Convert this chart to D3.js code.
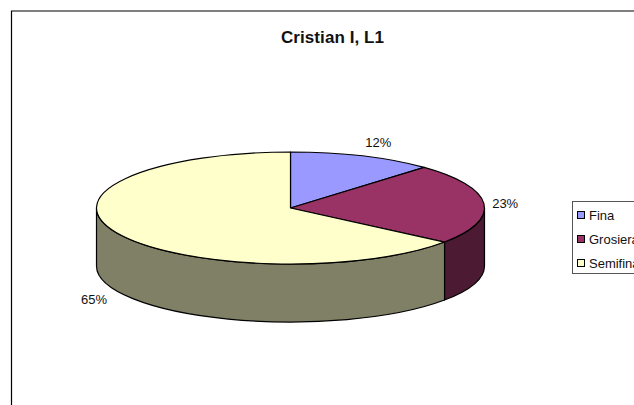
<!DOCTYPE html>
<html>
<head>
<meta charset="utf-8">
<style>
html, body { margin: 0; padding: 0; background: #fff; overflow: hidden; }
svg { display: block; }
text { font-family: 'Liberation Sans', Arial, sans-serif; fill: #111; }
</style>
</head>
<body>
<svg width="634" height="405"></svg>
<script src="https://d3js.org/d3.v7.min.js"></script>
<script>
// chart data, labels show these rounded
var categories = ["Fina", "Grosiera", "Semifina"];
var values = [12.1, 23.3, 64.6];
var topColors = ["#9999ff", "#993366", "#ffffcc"];
var sideColors = ["#4d4d80", "#4d1a33", "#808066"];

var svg = d3.select("svg");

// ellipse of the tilted pie
var cx = 290.5, cy = 208, rx = 194, ry = 56, depth = 58;

// frame, runs off the right and bottom of the picture
svg.append("path")
    .attr("d", "M11.5,700V11H900")
    .attr("fill", "none")
    .attr("stroke", "#000")
    .attr("stroke-width", 1.2);

svg.append("text")
    .attr("x", 332.5)
    .attr("y", 42.5)
    .attr("text-anchor", "middle")
    .attr("font-size", 17)
    .attr("font-weight", "bold")
    .attr("textLength", 103)
    .text("Cristian I, L1");

var pie = d3.pie().sort(null)(values);

function pointAt(a, dy) {
  return [cx + rx * Math.sin(a), cy - ry * Math.cos(a) + dy];
}

// side walls, only the part of each slice facing the viewer
var g = svg.append("g");
pie.forEach(function(d, i) {
  var a0 = Math.max(d.startAngle, Math.PI / 2),
      a1 = Math.min(d.endAngle, Math.PI * 1.5);
  if (a1 <= a0) return;
  var p0 = pointAt(a0, 0), p1 = pointAt(a1, 0);
  var large = a1 - a0 > Math.PI ? 1 : 0;
  g.append("path")
      .attr("d", "M" + p0 + "A" + rx + "," + ry + " 0 " + large + " 1 " + p1 +
                 "V" + (p1[1] + depth) +
                 "A" + rx + "," + ry + " 0 " + large + " 0 " + p0[0] + "," + (p0[1] + depth) + "Z")
      .attr("fill", sideColors[i])
      .attr("stroke", "#000")
      .attr("stroke-width", 1.2)
      .attr("stroke-linejoin", "round");
});

// top of the pie, a flat arc squashed into the ellipse
var arc = d3.arc().innerRadius(0).outerRadius(rx);
g.append("g")
    .attr("transform", "translate(" + cx + "," + cy + ") scale(1," + (ry / rx) + ")")
  .selectAll("path")
  .data(pie)
  .enter().append("path")
    .attr("d", arc)
    .attr("fill", function(d, i) { return topColors[i]; })
    .attr("stroke", "#000")
    .attr("stroke-width", 1.2)
    .attr("vector-effect", "non-scaling-stroke")
    .attr("stroke-linejoin", "round");

// percent labels
var labelAt = [[1.22, 1.26, 0], [1.11, 1.0, 0], [1.13, 1.34, 58]];
svg.append("g")
  .selectAll("text")
  .data(pie)
  .enter().append("text")
    .attr("x", function(d, i) {
      return cx + rx * labelAt[i][0] * Math.sin((d.startAngle + d.endAngle) / 2);
    })
    .attr("y", function(d, i) {
      return cy - ry * labelAt[i][1] * Math.cos((d.startAngle + d.endAngle) / 2) + labelAt[i][2];
    })
    .attr("dy", "0.35em")
    .attr("text-anchor", "middle")
    .attr("font-size", 13)
    .text(function(d) { return Math.round(d.value) + "%"; });

// legend, cut by the right edge
var legend = svg.append("g");
legend.append("rect")
    .attr("x", 572.5)
    .attr("y", 201.5)
    .attr("width", 100)
    .attr("height", 72)
    .attr("fill", "#fff")
    .attr("stroke", "#555");

var y = d3.scalePoint().domain(categories).range([215, 263]);

var rows = legend.selectAll("g")
    .data(categories)
    .enter().append("g")
    .attr("transform", function(d) { return "translate(0," + y(d) + ")"; });

rows.append("rect")
    .attr("x", 577.5)
    .attr("y", -3.5)
    .attr("width", 7)
    .attr("height", 7)
    .attr("fill", function(d, i) { return topColors[i]; })
    .attr("stroke", "#000");

rows.append("text")
    .attr("x", 589)
    .attr("dy", "0.35em")
    .attr("font-size", 13)
    .text(function(d) { return d; });
</script>
</body>
</html>
